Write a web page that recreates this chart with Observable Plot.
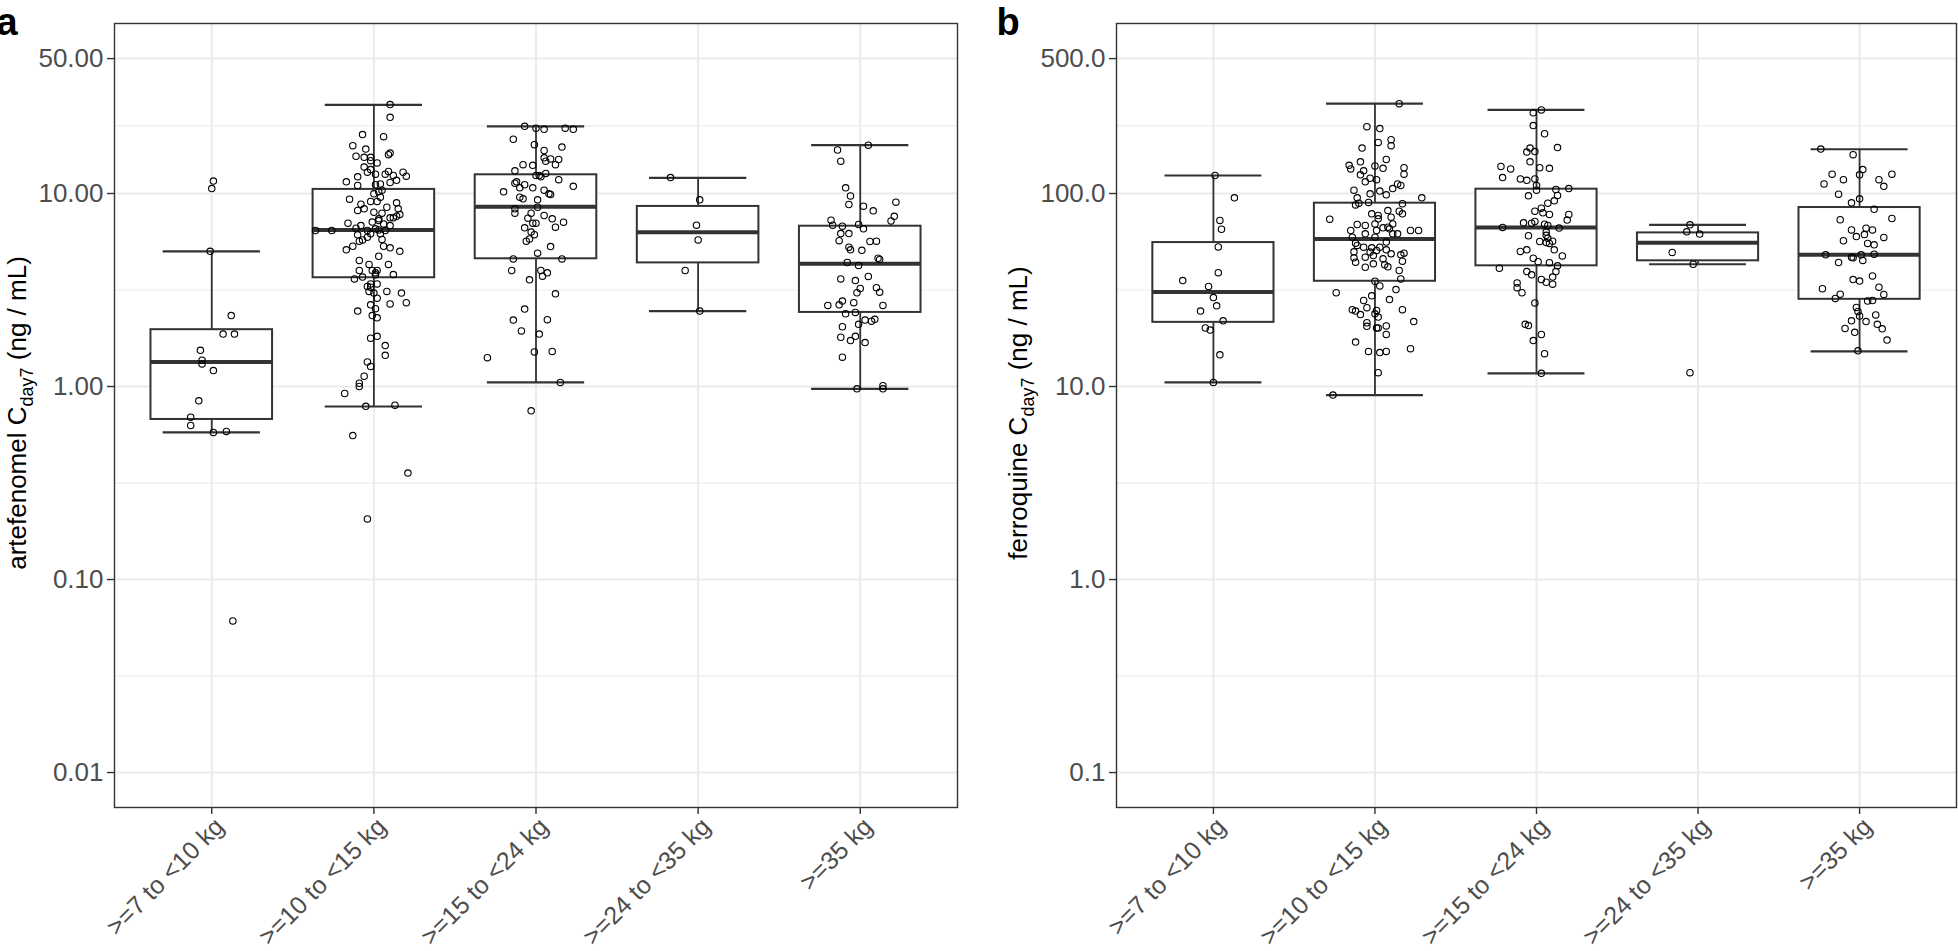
<!DOCTYPE html>
<html><head><meta charset="utf-8">
<script src="https://cdn.jsdelivr.net/npm/d3@7"></script>
<script src="https://cdn.jsdelivr.net/npm/@observablehq/plot@0.6"></script>
<style>
html,body{margin:0;padding:0;background:#fff;}
#wrap{display:flex;width:1958px;height:951px;}
#wrap svg{flex:none;}
</style></head><body><div id="wrap"></div>
<script>
const categories = [">=7 to <10 kg", ">=10 to <15 kg", ">=15 to <24 kg", ">=24 to <35 kg", ">=35 kg"];

// Panel a: artefenomel C_day7 (ng/mL)
const artTicks = [0.01, 0.1, 1, 10, 50];
const artTickLabels = ["0.01", "0.10", "1.00", "10.00", "50.00"];
const artMinor = [0.0316, 0.316, 3.16, 22.4];
const artLow = [0.578, 0.788, 1.05, 2.46, 0.973];
const artQ1 = [0.675, 3.66, 4.59, 4.37, 2.42];
const artMedian = [1.34, 6.48, 8.53, 6.30, 4.32];
const artQ3 = [1.97, 10.5, 12.5, 8.57, 6.77];
const artHigh = [5.02, 28.8, 22.3, 12.05, 17.8];

const art1 = [11.6,10.6,5.02,2.33,1.87,1.87,1.54,1.37,1.31,1.21,0.843,0.693,0.628,0.578,0.585,0.061];
const art1Jit = [0.01,0,-0.01,0.12,0.07,0.14,-0.07,-0.06,-0.06,0.01,-0.08,-0.13,-0.13,0.01,0.09,0.13];
const art2 = [28.9,24.8,20.2,19.7,17.7,17.0,15.6,15.4,15.4,15.9,
  16.2,14.4,14.8,13.7,13.3,12.9,12.6,12.6,13.0,12.4,
  11.7,12.9,12.3,12.2,11.5,11.0,11.1,11.2,11.4,10.4,
  10.2,9.35,9.96,9.57,8.81,9.10,9.10,8.17,8.33,8.00,
  8.49,8.95,8.33,7.78,7.63,7.91,7.39,7.48,7.48,7.02,
  6.82,7.11,7.24,6.96,6.82,6.43,6.43,6.61,6.43,6.56,
  6.48,6.43,6.11,6.18,6.18,5.75,5.66,5.94,5.78,5.11,
  5.33,5.33,5.23,5.02,4.73,4.50,4.29,4.29,3.99,3.99,
  3.99,3.88,3.69,3.61,3.79,3.80,3.40,3.40,3.30,3.27,
  3.11,3.05,3.11,3.05,2.87,2.46,2.65,2.53,2.68,2.72,
  2.33,2.27,1.78,1.82,1.63,1.45,1.34,1.27,1.13,1.04,
  1.00,0.92,0.79,0.80,0.557,0.356,0.206];
const art2Jit = [0.10,0.10,-0.07,0.06,-0.13,-0.05,-0.11,-0.06,-0.02,0.09,
  0.10,0.02,-0.02,-0.06,-0.02,-0.04,0.01,0.07,0.09,0.12,
  0.14,0.18,0.20,-0.10,-0.17,-0.10,0.01,0.04,0.10,0.05,
  0.03,-0.15,0.00,0.04,-0.08,-0.02,0.02,-0.10,-0.06,0.00,
  0.08,0.14,0.15,0.16,0.14,0.05,0.03,0.10,0.12,-0.16,
  -0.08,-0.01,0.03,0.06,0.10,-0.36,-0.26,-0.11,-0.04,0.01,
  0.03,0.07,-0.10,-0.02,0.04,-0.07,-0.09,-0.04,0.05,-0.17,
  -0.13,0.06,0.10,0.16,0.03,-0.09,-0.03,0.09,-0.09,-0.01,
  0.02,0.01,-0.07,-0.12,0.01,0.12,-0.02,0.02,-0.04,-0.02,
  -0.03,0.00,0.08,0.17,0.02,-0.10,-0.02,0.01,0.10,0.20,
  -0.01,0.02,-0.02,0.02,0.07,0.07,-0.04,-0.02,-0.06,-0.09,
  -0.09,-0.18,-0.05,0.13,-0.13,0.21,-0.04];
const art3 = [22.3,21.8,21.5,21.8,21.5,19.1,17.9,17.4,16.7,15.3,
  15.1,15.0,14.7,14.1,14.1,14.0,13.1,12.4,12.4,12.2,
  12.7,11.8,11.5,11.3,11.1,10.7,10.7,10.4,10.2,9.96,
  9.88,10.9,9.57,9.38,9.27,8.49,8.33,7.91,7.91,7.69,
  7.39,7.45,7.02,7.02,7.10,6.64,6.69,6.31,6.12,5.82,
  5.66,4.91,5.31,4.58,4.58,3.99,3.99,3.88,3.73,3.57,
  3.02,2.52,2.21,2.22,1.94,1.87,1.51,1.52,1.41,1.05,
  0.748];
const art3Jit = [-0.07,0.00,0.05,0.18,0.23,-0.14,-0.01,0.16,0.05,0.05,
  0.09,0.14,0.06,0.12,-0.08,-0.02,-0.13,0.00,0.02,0.03,
  0.06,0.14,-0.12,-0.13,-0.07,-0.10,-0.02,0.05,-0.20,0.08,
  0.09,0.23,-0.10,-0.08,0.01,0.01,-0.13,-0.13,-0.03,0.05,
  0.10,-0.05,-0.02,0.00,0.17,-0.07,0.12,-0.03,-0.01,-0.04,
  -0.06,0.01,0.09,-0.14,0.16,-0.15,0.03,0.07,0.04,-0.04,
  0.12,-0.07,-0.14,0.07,-0.09,0.02,-0.01,0.10,-0.30,0.15,
  -0.03];
const art4 = [12.1,9.27,6.85,5.75,3.99,2.46];
const art4Jit = [-0.17,0.01,-0.01,0.00,-0.08,0.01];
const art5 = [17.8,16.8,14.7,10.7,9.72,8.77,8.60,8.13,9.02,7.62,
  7.21,7.27,6.85,6.77,6.91,6.56,6.20,6.20,5.70,5.64,
  5.66,5.27,5.11,5.08,4.62,4.55,4.39,4.24,3.61,3.54,
  3.72,3.22,3.06,3.25,3.08,2.77,2.65,2.63,2.72,2.63,
  2.38,2.42,2.21,2.18,2.23,2.10,2.04,1.80,1.82,1.73,
  1.69,1.42,0.973,1.01,0.973];
const art5Jit = [0.05,-0.14,-0.12,-0.09,-0.06,-0.07,0.02,0.08,0.22,0.21,
  0.19,-0.18,-0.17,-0.11,-0.01,0.02,-0.12,-0.07,-0.13,0.06,
  0.10,-0.07,-0.06,0.01,0.11,0.12,-0.08,-0.01,-0.12,-0.03,
  0.05,0.00,-0.02,0.10,0.12,-0.11,-0.13,-0.20,-0.04,0.14,
  -0.09,-0.03,0.03,0.07,0.09,-0.01,-0.11,-0.12,-0.03,-0.06,
  0.03,-0.11,-0.02,0.14,0.14];

// Panel b: ferroquine C_day7 (ng/mL)
const ferTicks = [0.1, 1, 10, 100, 500];
const ferTickLabels = ["0.1", "1.0", "10.0", "100.0", "500.0"];
const ferMinor = [0.316, 3.16, 31.6, 224];
const ferLow = [10.5, 9.02, 11.7, 43.0, 15.2];
const ferQ1 = [21.5, 35.1, 42.2, 44.8, 28.3];
const ferMedian = [30.9, 58.2, 66.7, 55.5, 48.1];
const ferQ3 = [55.7, 89.1, 105.3, 62.5, 84.6];
const ferHigh = [124, 292, 271.5, 68.8, 169.6];

const fer1 = [124,95.0,72.5,65.3,52.9,38.9,35.4,33.0,28.9,26.2,24.6,21.9,20.1,19.6,14.6,10.5];
const fer1Jit = [0.01,0.13,0.04,0.05,0.03,0.03,-0.19,-0.03,0.00,0.02,-0.08,0.06,-0.05,-0.02,0.04,0.00];
const fer2 = [292,222,217,184,190,177,172,146,150,140,
  134,139,135,131,136,126,125,120,115,118,
  112,110,106,104,103,99.6,98.4,95.0,89.9,88.5,
  95.0,87.3,89.1,73.6,78.5,76.9,81.6,81.0,78.5,73.9,
  75.4,69.1,68.3,69.6,66.4,66.9,65.6,64.3,69.6,61.8,
  64.3,59.4,61.8,59.4,61.8,64.3,64.3,55.3,53.8,52.7,
  52.3,52.7,56.0,51.1,49.9,49.7,50.7,48.7,48.1,49.1,
  46.4,44.1,46.8,47.7,45.9,44.6,41.5,43.2,42.7,41.7,
  39.9,36.1,35.1,33.2,30.6,31.8,29.5,27.9,28.2,25.0,
  24.6,23.6,25.6,24.8,23.8,25.0,22.9,21.4,20.5,20.1,
  20.1,20.6,21.7,18.6,17.0,15.2,15.0,15.2,15.7,11.8,
  9.03];
const fer2Jit = [0.15,-0.05,0.03,0.02,0.10,0.10,-0.08,-0.09,0.07,-0.16,
  -0.15,0.00,0.05,-0.07,0.18,0.18,-0.09,-0.03,-0.06,0.01,
  0.14,0.16,0.11,-0.13,0.03,-0.03,0.07,-0.11,-0.04,0.17,
  0.29,-0.12,-0.10,-0.28,-0.02,0.02,0.08,0.15,0.17,0.02,
  0.10,-0.11,-0.06,0.00,0.05,0.08,0.09,0.01,0.11,0.14,
  -0.15,-0.14,-0.06,0.00,0.11,0.22,0.27,-0.12,-0.11,-0.07,
  -0.02,0.03,0.07,0.07,-0.13,-0.03,0.01,0.10,0.16,0.18,
  -0.13,-0.12,-0.06,-0.01,0.05,0.17,-0.06,-0.01,0.06,0.08,
  0.15,0.16,0.00,0.03,-0.24,0.13,-0.02,-0.07,0.09,-0.14,
  -0.12,-0.09,-0.05,0.01,0.00,0.17,0.02,-0.05,-0.05,0.01,
  0.02,0.07,0.24,0.07,-0.12,-0.04,0.03,0.07,0.22,0.02,
  -0.26];
const fer3 = [271,262,225,204,173,172,164,165,146,138,
  134,136,135,121,119,117,119,110,104,105,
  106,97.7,97.3,91.6,89.1,83.9,81.0,79.4,77.9,77.9,
  72.8,70.5,70.2,71.6,69.4,68.3,66.7,66.2,63.1,60.4,
  60.7,58.7,56.4,55.7,55.1,56.6,50.1,51.1,51.1,47.5,
  46.2,44.3,43.8,42.2,41.0,39.4,39.4,37.9,36.9,35.9,
  34.7,33.9,34.4,32.5,30.6,27.1,21.0,20.7,18.6,17.3,
  14.8,11.7];
const fer3Jit = [0.03,-0.02,-0.02,0.05,0.13,-0.04,-0.06,-0.01,-0.04,-0.22,
  -0.16,0.02,0.08,-0.21,-0.10,-0.06,-0.01,0.00,0.00,0.12,
  0.20,0.13,-0.05,0.11,0.07,0.03,-0.01,0.04,0.08,0.20,
  0.19,-0.08,-0.03,-0.01,0.05,0.07,-0.21,0.14,0.06,-0.05,
  0.06,0.07,0.02,0.06,0.08,0.10,-0.10,-0.06,0.11,0.16,
  -0.02,0.01,0.08,0.13,-0.23,0.12,-0.06,-0.03,0.10,0.03,
  0.06,0.10,-0.12,-0.12,-0.09,-0.01,-0.07,-0.05,0.03,-0.02,
  0.05,0.03];
const fer4 = [68.8,63.3,61.6,49.5,43.0,11.8];
const fer4Jit = [-0.05,-0.07,0.01,-0.16,-0.03,-0.05];
const fer5 = [170,159,133,125,126,118,112,118,109,126,
  99.2,89.5,93.8,82.9,73.1,74.2,64.8,66.1,64.8,59.8,
  61.3,56.9,59.2,55.1,54.2,48.1,46.8,46.4,48.1,48.5,
  45.0,43.9,37.4,35.8,35.2,32.1,32.7,30.1,28.6,30.0,
  27.7,27.9,25.7,24.5,23.2,23.5,21.7,21.9,21.0,20.0,
  19.9,19.1,17.4,15.3];
const fer5Jit = [-0.24,-0.04,0.02,0.00,-0.17,-0.10,-0.22,0.12,0.15,0.20,
  -0.13,-0.05,0.00,0.09,-0.12,0.20,-0.05,0.04,0.08,-0.02,
  0.03,-0.10,0.15,0.05,0.09,-0.21,-0.05,-0.04,0.01,0.09,
  0.02,-0.13,0.08,-0.04,0.00,-0.23,0.12,-0.12,-0.15,0.15,
  0.05,0.08,-0.02,-0.01,0.00,0.10,0.04,-0.05,0.11,-0.09,
  0.14,-0.03,0.17,-0.01];

const FONT = "'Liberation Sans', Arial, Helvetica, sans-serif";

function panel(o) {
  const idx = categories.map((c, i) => i);
  const boxes = idx.map(i => ({i, lo: o.lo[i], q1: o.q1[i], med: o.med[i], q3: o.q3[i], hi: o.hi[i]}));
  const pts = o.groups.flatMap((vals, i) => vals.map((v, k) => ({i, v, j: o.jit[i][k] ?? 0})));
  const svg = Plot.plot({
    width: 979, height: 951,
    marginTop: 23, marginBottom: 144, marginLeft: o.marginLeft, marginRight: o.marginRight,
    style: {fontFamily: FONT, background: "white", overflow: "visible"},
    x: {type: "linear", domain: [-0.6, 4.6], label: null},
    y: {type: "log", domain: o.yDomain, label: null},
    marks: [
      Plot.ruleY(o.minor, {stroke: "#ebebeb", strokeWidth: 1.1}),
      Plot.ruleY(o.ticks, {stroke: "#ebebeb", strokeWidth: 2}),
      Plot.ruleX(idx, {stroke: "#ebebeb", strokeWidth: 2}),
      Plot.ruleX(boxes, {x: "i", y1: "lo", y2: "hi", stroke: "#333333", strokeWidth: 1.8}),
      Plot.ruleY(boxes, {y: "lo", x1: d => d.i - 0.3, x2: d => d.i + 0.3, stroke: "#333333", strokeWidth: 2.2}),
      Plot.ruleY(boxes, {y: "hi", x1: d => d.i - 0.3, x2: d => d.i + 0.3, stroke: "#333333", strokeWidth: 2.2}),
      Plot.rect(boxes, {x1: d => d.i - 0.375, x2: d => d.i + 0.375, y1: "q1", y2: "q3", fill: "white", stroke: "#333333", strokeWidth: 2}),
      Plot.ruleY(boxes, {y: "med", x1: d => d.i - 0.375, x2: d => d.i + 0.375, stroke: "#333333", strokeWidth: 4}),
      Plot.dot(pts, {x: d => d.i + d.j, y: "v", r: 3.2, stroke: "black", strokeWidth: 1.1, fill: "none"}),
      Plot.frame({stroke: "#333333", strokeWidth: 1.4}),
      Plot.axisY(o.ticks, {tickFormat: d => o.tickLabels[o.ticks.indexOf(d)], tickSize: 7, tickPadding: 4,
        stroke: "#333333", fill: "#4d4d4d", fontSize: 26, strokeWidth: 1.4, label: null}),
      Plot.axisX(idx, {text: null, tickSize: 7, stroke: "#333333", strokeWidth: 1.4, label: null}),
      Plot.axisX(idx, {tickFormat: i => categories[i], tickRotate: -45, tickSize: 0, tickPadding: 11,
        dx: 8, dy: 4, fill: "#4d4d4d", fontSize: 25, label: null})
    ]
  });
  const s = d3.select(svg);
  s.append("text").attr("x", o.letterX).attr("y", 35)
    .attr("font-family", FONT).attr("font-size", 38).attr("font-weight", "bold").attr("fill", "black")
    .text(o.letter);
  const t = s.append("text")
    .attr("transform", `translate(${o.titleX},413) rotate(-90)`)
    .attr("text-anchor", "middle").attr("font-family", FONT).attr("font-size", 26).attr("fill", "black");
  t.append("tspan").text(o.drug + " C");
  t.append("tspan").attr("font-size", 18).attr("dy", 7).text("day7");
  t.append("tspan").attr("dy", -7).text(" (ng / mL)");
  return svg;
}

const wrap = document.getElementById("wrap");
wrap.appendChild(panel({
  letter: "a", letterX: 7, drug: "artefenomel", titleX: 26,
  marginLeft: 114, marginRight: 22, yDomain: [0.00659, 76],
  ticks: artTicks, tickLabels: artTickLabels, minor: artMinor,
  lo: artLow, q1: artQ1, med: artMedian, q3: artQ3, hi: artHigh,
  groups: [art1, art2, art3, art4, art5], jit: [art1Jit, art2Jit, art3Jit, art4Jit, art5Jit]
}));
wrap.appendChild(panel({
  letter: "b", letterX: 29, drug: "ferroquine", titleX: 48,
  marginLeft: 137, marginRight: 2, yDomain: [0.0659, 760],
  ticks: ferTicks, tickLabels: ferTickLabels, minor: ferMinor,
  lo: ferLow, q1: ferQ1, med: ferMedian, q3: ferQ3, hi: ferHigh,
  groups: [fer1, fer2, fer3, fer4, fer5], jit: [fer1Jit, fer2Jit, fer3Jit, fer4Jit, fer5Jit]
}));
</script></body></html>
